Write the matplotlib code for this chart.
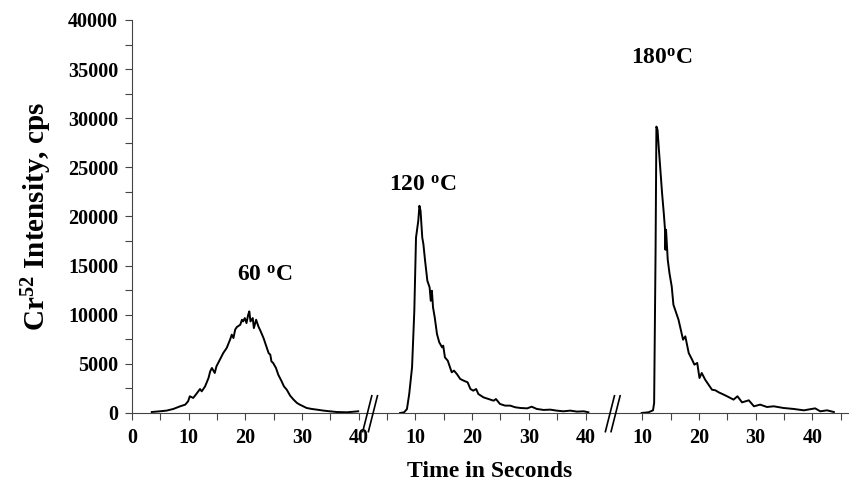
import numpy as np
import matplotlib
matplotlib.use("Agg")
import matplotlib.pyplot as plt

plt.rcParams["font.family"] = ["Liberation Serif", "DejaVu Serif"]
plt.rcParams["font.weight"] = "bold"
plt.rcParams["mathtext.fontset"] = "custom"
plt.rcParams["mathtext.rm"] = "Liberation Serif:bold"
plt.rcParams["mathtext.bf"] = "Liberation Serif:bold"
plt.rcParams["mathtext.it"] = "Liberation Serif:bold"

# 60 C run
t60 = [3.5, 4.9, 6.1, 7.3, 8.5, 9.4, 9.9, 10.2, 10.8, 11.4, 12.0, 12.3, 12.9, 13.5,
       13.8, 14.1, 14.6, 14.9, 15.5, 16.1, 16.7, 17.3, 17.6, 17.9, 18.2, 18.5, 19.1,
       19.4, 19.6, 19.9, 20.2, 20.5, 20.7, 20.9, 21.3, 21.5, 21.9, 22.3, 22.7, 23.2,
       23.8, 24.1, 24.4, 24.6, 24.9, 25.4, 25.8, 26.4, 26.8, 27.3, 27.9, 28.5, 29.1,
       29.6, 30.2, 30.8, 31.7, 32.6, 33.8, 34.9, 36.1, 37.9, 39.9]
i60 = [100, 170, 240, 410, 680, 850, 1190, 1700, 1530, 1970, 2440, 2200, 2710, 3560,
       4240, 4580, 4070, 4750, 5420, 6100, 6610, 7460, 7970, 7630, 8480, 8750, 8980,
       9490, 9320, 9660, 9150, 10000, 10340, 9320, 9660, 8640, 9490, 8810, 8310, 7630,
       6610, 6100, 5930, 5250, 5090, 4580, 3900, 3220, 2710, 2370, 1760, 1360, 1020,
       850, 680, 510, 410, 340, 240, 170, 100, 70, 170]

# 120 C run
t120 = [7.3, 8.0, 8.5, 8.9, 9.4, 9.8, 10.1, 10.5, 10.7, 10.9, 11.2, 11.4, 11.7, 12.1,
        12.5, 12.7, 12.9, 13.1, 13.4, 13.8, 14.2, 14.7, 14.9, 15.2, 15.7, 16.1, 16.4,
        16.8, 17.3, 17.9, 18.5, 19.2, 19.7, 20.2, 20.7, 21.1, 22.0, 22.9, 23.8, 24.2,
        24.9, 25.8, 26.7, 27.6, 28.5, 29.7, 30.5, 31.4, 32.6, 33.8, 34.9, 36.1, 37.3,
        38.5, 39.7, 40.5]
i120 = [0, 70, 400, 1930, 4640, 10400, 17860, 19560, 21090, 20580, 17860, 17190, 15490,
        13460, 12780, 11420, 12440, 10750, 9730, 8030, 7190, 6680, 6850, 5660, 5320,
        4640, 4140, 4310, 3970, 3460, 3290, 3120, 2440, 2270, 2440, 1930, 1590, 1420,
        1250, 1420, 920, 750, 750, 580, 510, 470, 640, 410, 310, 340, 240, 170, 240,
        140, 170, 70]

# 180 C run
t180 = [9.9, 11.1, 11.9, 12.1, 12.35, 12.5, 12.7, 12.9, 13.2, 13.5, 13.8, 14.0, 14.1,
        14.2, 14.5, 14.8, 15.2, 15.5, 16.0, 16.4, 16.8, 17.2, 17.6, 17.9, 18.2, 18.8,
        19.2, 19.7, 20.1, 20.5, 21.1, 21.7, 22.3, 22.9, 23.5, 24.4, 25.2, 26.1, 26.8,
        27.6, 28.8, 29.7, 30.8, 32.0, 33.2, 34.9, 36.7, 38.5, 40.5, 41.4, 42.6, 43.8]
i180 = [0, 70, 270, 1020, 16270, 29150, 28820, 27120, 24750, 22370, 20340, 18810, 16610,
        18650, 15590, 14240, 12880, 11020, 10170, 9490, 8480, 7460, 7800, 6950, 6100,
        5420, 4920, 5090, 3560, 4070, 3390, 2880, 2370, 2310, 2100, 1860, 1630, 1360,
        1700, 1080, 1290, 680, 850, 610, 680, 510, 410, 270, 470, 170, 270, 100]

# where each run sits on the shared x axis
offsets = [0, 40, 80]
xtick_pos = [0, 10, 20, 30, 40, 50, 60, 70, 80, 90, 100, 110, 120]
xtick_lab = ["0", "10", "20", "30", "40", "10", "20", "30", "40", "10", "20", "30", "40"]
break_pos = [42.0, 84.8]

labels = ["60 $^{o}$C", "120 $^{o}$C", "180$^{o}$C"]
label_xy = [(23.5, 14000), (51.3, 23200), (93.5, 36100)]

fig = plt.figure(figsize=(8.62, 4.91), dpi=100)
ax = fig.add_axes([0.1531, 0.1589, 0.8307, 0.8004])

for t, v, off in zip([t60, t120, t180], [i60, i120, i180], offsets):
    ax.plot(np.array(t) + off, v, color="black", lw=1.4)

for txt, (x, y) in zip(labels, label_xy):
    ax.text(x, y, txt, ha="center", va="center", fontsize=17, fontweight="bold")

ax.set_xlim(0, 126.3)
ax.set_ylim(0, 40000)

minor = [m for m in range(0, 126, 5) if m not in xtick_pos and m != 85]
ax.set_xticks(xtick_pos)
ax.set_xticklabels(xtick_lab)
ax.set_xticks(minor, minor=True)
ax.set_yticks(np.arange(0, 40001, 5000))
ax.set_yticks(np.arange(2500, 40000, 5000), minor=True)

ax.tick_params(axis="both", which="both", direction="out", length=5, width=0.8,
               color="#444444", labelsize=14.5)
ax.tick_params(axis="x", pad=6)
ax.tick_params(axis="y", pad=5)

for s in ["top", "right"]:
    ax.spines[s].set_visible(False)
for s in ["left", "bottom"]:
    ax.spines[s].set_color("#444444")
    ax.spines[s].set_linewidth(0.8)

# axis break marks
for b in break_pos:
    for dx in (-0.5, 0.5):
        ax.plot([b + dx - 0.8, b + dx + 0.8], [-1900, 1750], color="black", lw=1.2,
                clip_on=False, zorder=5)

ax.set_xlabel("Time in Seconds", fontsize=17, fontweight="bold", labelpad=9)
ax.set_ylabel("Cr$^{52}$ Intensity, cps", fontsize=21, fontweight="bold", labelpad=10)

fig.savefig("out.png", dpi=100)
